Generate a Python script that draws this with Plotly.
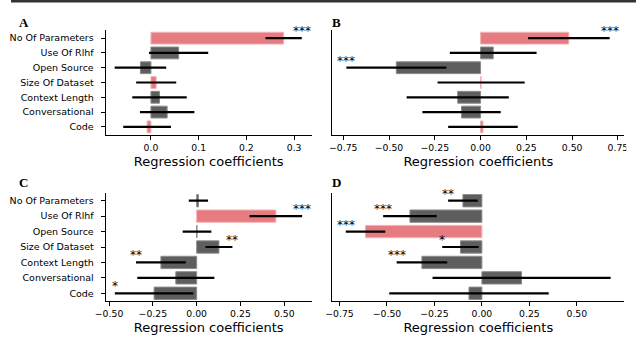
import plotly.graph_objects as go

# --- data ---
categories = ["No Of Parameters", "Use Of Rlhf", "Open Source", "Size Of Dataset",
              "Context Length", "Conversational", "Code"]

coef_a = [0.278, 0.058, -0.022, 0.011, 0.018, 0.034, -0.008]
err_a = [0.038, 0.062, 0.054, 0.042, 0.057, 0.057, 0.050]
red_a = [True, False, False, True, False, False, True]
stars_a = ["***", "", "", "", "", "", ""]

coef_b = [0.482, 0.069, -0.460, 0.003, -0.125, -0.104, 0.013]
err_b = [0.223, 0.237, 0.273, 0.238, 0.279, 0.214, 0.190]
red_b = [True, False, False, True, False, False, True]
stars_b = ["***", "", "***", "", "", "", ""]

coef_c = [0.010, 0.452, 0.002, 0.127, -0.204, -0.119, -0.243]
err_c = [0.055, 0.150, 0.082, 0.077, 0.142, 0.220, 0.224]
red_c = [False, True, False, False, False, False, False]
stars_c = ["", "***", "", "**", "**", "", "*"]

coef_d = [-0.100, -0.379, -0.613, -0.113, -0.316, 0.209, -0.068]
err_d = [0.078, 0.141, 0.104, 0.096, 0.133, 0.469, 0.420]
red_d = [False, False, True, False, False, False, False]
stars_d = ["**", "***", "***", "*", "***", "", ""]

ticks_top_left = [0.0, 0.1, 0.2, 0.3]
ticks_top_left_text = ["0.0", "0.1", "0.2", "0.3"]
ticks_wide = [-0.75, -0.5, -0.25, 0.0, 0.25, 0.5, 0.75]
ticks_wide_text = ["\u22120.75", "\u22120.50", "\u22120.25", "0.00", "0.25", "0.50", "0.75"]
ticks_c = [-0.5, -0.25, 0.0, 0.25, 0.5]
ticks_c_text = ["\u22120.50", "\u22120.25", "0.00", "0.25", "0.50"]
ticks_d = [-0.75, -0.5, -0.25, 0.0, 0.25, 0.5]
ticks_d_text = ["\u22120.75", "\u22120.50", "\u22120.25", "0.00", "0.25", "0.50"]

RED, RED_EDGE = "#e67c81", "#f3b3b5"
GRAY, GRAY_EDGE = "#5e5e5e", "#8c8c8c"
FONT = "DejaVu Sans"
W, H = 640, 337


def px_x(p):
    return p / W


def px_y(p):
    return 1 - p / H


panels = [
    # name, coef, err, red, stars, x-domain px, y-domain px, xrange, yrange, ticks, labels, show y labels
    ("A", coef_a, err_a, red_a, stars_a, (97, 308), (30, 135), [-0.0947, 0.337], [6.55, -0.55],
     ticks_top_left, ticks_top_left_text, True),
    ("B", coef_b, err_b, red_b, stars_b, (329, 628), (30, 135), [-0.81, 0.785], [6.55, -0.55],
     ticks_wide, ticks_wide_text, False),
    ("C", coef_c, err_c, red_c, stars_c, (97, 308), (193, 301), [-0.519, 0.657], [6.5, -0.5],
     ticks_c, ticks_c_text, True),
    ("D", coef_d, err_d, red_d, stars_d, (329, 628), (193, 301), [-0.788, 0.75], [6.5, -0.5],
     ticks_d, ticks_d_text, False),
]

fig = go.Figure()
annotations = []
layout = {}

for i, (name, coef, err, red, stars, xd, yd, xr, yr, tv, tt, show_y) in enumerate(panels):
    n = "" if i == 0 else str(i + 1)
    xa, ya = "x" + n, "y" + n
    fig.add_trace(go.Bar(
        x=coef, y=categories, orientation="h", xaxis=xa, yaxis=ya,
        marker=dict(color=[RED if r else GRAY for r in red],
                    line=dict(color=[RED_EDGE if r else GRAY_EDGE for r in red], width=1)),
        error_x=dict(type="data", array=err, color="black", thickness=2.2, width=0),
        showlegend=False, hoverinfo="skip",
    ))
    layout["xaxis" + n] = dict(
        domain=[px_x(xd[0]), px_x(xd[1])], anchor=ya, range=xr,
        tickvals=tv, ticktext=tt, ticks="outside", ticklen=4, tickwidth=1, tickcolor="black",
        showline=True, linecolor="black", linewidth=1.2, showgrid=False, zeroline=False,
        tickfont=dict(family=FONT, size=9.3, color="black"),
        title=dict(text="Regression coefficients", standoff=4,
                   font=dict(family=FONT, size=13, color="black")),
    )
    layout["yaxis" + n] = dict(
        domain=[px_y(yd[1]), px_y(yd[0])], anchor=xa, range=yr, type="category",
        categoryarray=categories, showline=True, linecolor="black", linewidth=1.2,
        showgrid=False, zeroline=False, showticklabels=show_y, ticklabelstandoff=5,
        ticks="outside" if show_y else "", ticklen=4, tickwidth=1, tickcolor="black",
        tickfont=dict(family=FONT, size=9.5, color="black"),
    )
    # significance stars at the error bar end away from zero
    for c, e, s, cat in zip(coef, err, stars, categories):
        if s:
            end = c + e if c >= 0 else c - e
            annotations.append(dict(
                x=end, y=cat, xref=xa, yref=ya, text=s, showarrow=False,
                xanchor="center", yanchor="middle", yshift=7,
                font=dict(family=FONT, size=12, color="black"),
            ))
    # panel letter
    annotations.append(dict(
        x=px_x(13 if xd[0] < 300 else 333), y=px_y(22 if yd[0] < 100 else 182),
        xref="paper", yref="paper", text="<b>%s</b>" % name, showarrow=False,
        xanchor="center", yanchor="middle",
        font=dict(family="Liberation Serif", size=13, color="black"),
    ))

fig.update_layout(
    width=W, height=H, margin=dict(l=0, r=0, t=0, b=0),
    paper_bgcolor="white", plot_bgcolor="white", bargap=0.2,
    annotations=annotations,
    shapes=[
        dict(type="line", xref="paper", yref="paper", x0=0, x1=1, y0=px_y(1), y1=px_y(1),
             line=dict(color="#333333", width=3), layer="above"),
        dict(type="rect", xref="paper", yref="paper", x0=px_x(630), x1=1,
             y0=px_y(160), y1=px_y(136), fillcolor="white", line=dict(width=0), layer="above"),
    ],
    **layout,
)

# the page body has a default 8px margin; drop it so the figure fills the window
fig.write_html("out.html", config={"displayModeBar": False},
               post_script="document.body.style.margin='0';")
